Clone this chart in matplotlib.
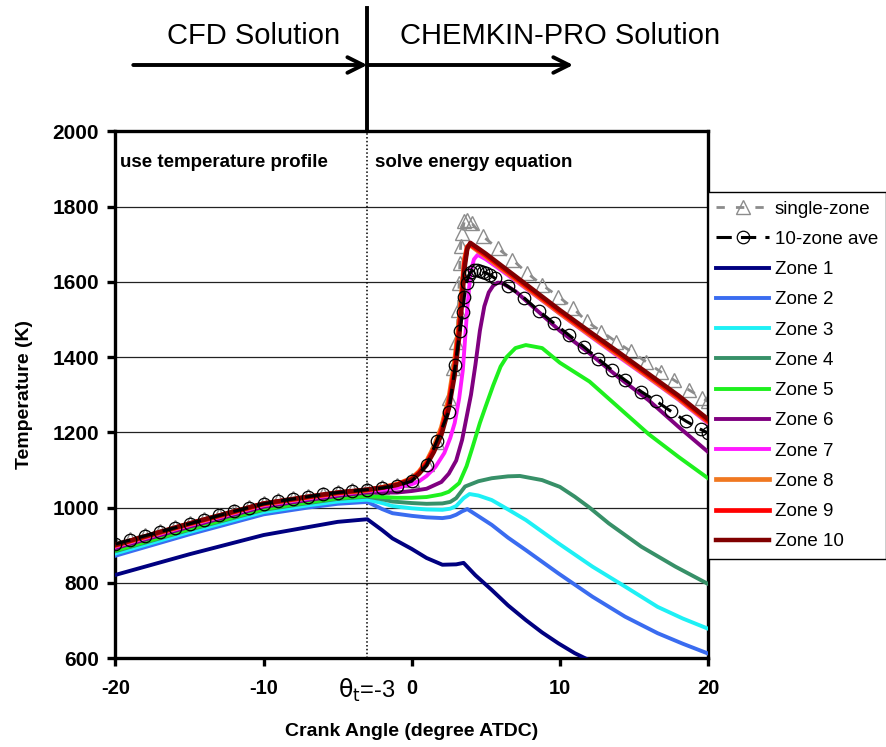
import matplotlib
matplotlib.use("Agg")
import matplotlib.pyplot as plt
from matplotlib.transforms import blended_transform_factory

plt.rcParams["font.family"] = ["Liberation Sans", "DejaVu Sans"]
plt.rcParams["axes.unicode_minus"] = False

# crank angle (deg ATDC) / temperature (K)
pre_x = [-20, -15, -10, -7, -5, -3]

zone1_x = pre_x + [-2, -1.3, 0, 1, 2.07, 3.0, 3.5, 4.3, 5.4, 6.5, 7.7, 8.8, 9.9, 11, 12.3]
zone1_T = [821, 876, 927, 948, 962, 969,
           940, 918, 890, 866, 848, 849, 853, 820, 781, 740, 701, 668, 639, 613, 588]

zone2_x = pre_x + [-2, -1.3, 0, 1, 2.07, 2.6, 3.0, 3.4, 3.75, 4.5, 5.4, 6.5, 7.7, 9.9, 12.2, 14.4, 16.6, 18.3, 20]
zone2_T = [872, 929, 982, 1000, 1010, 1015,
           996, 985, 978, 974, 972, 975, 981, 990, 996, 977, 954, 920, 887, 825, 763, 710, 666, 638, 612]

zone3_x = pre_x + [-2, -1.3, 0, 1, 2.07, 2.6, 3.0, 3.5, 3.9, 4.5, 5.4, 6.5, 7.7, 9.9, 12.2, 14.4, 16.6, 18.3, 20]
zone3_T = [878, 935, 988, 1006, 1016, 1021,
           1012, 1004, 998, 995, 994, 997, 1004, 1025, 1036, 1032, 1020, 995, 967, 905, 843, 790, 736, 705, 678]

zone4_x = pre_x + [-2, -1.3, 0, 1, 2.07, 2.6, 3.0, 3.6, 4.5, 5.4, 6.5, 7.3, 8.8, 10, 11, 12, 13.3, 15.5, 17.8, 20]
zone4_T = [884, 941, 994, 1012, 1023, 1029,
           1022, 1016, 1012, 1010, 1011, 1015, 1025, 1056, 1070, 1078, 1083, 1084, 1073, 1055, 1029,
           1000, 958, 896, 843, 797]

zone5_x = pre_x + [-2, -1, 0, 1, 2, 2.5, 3.2, 3.7, 4.1, 4.6, 5.0, 5.5, 6.0, 6.4, 7.0, 7.7, 8.8, 10, 12, 14, 16, 18, 20]
zone5_T = [886, 943, 996, 1014, 1025, 1031,
           1028, 1026, 1026, 1028, 1035, 1042, 1065, 1110, 1160, 1225, 1270, 1325, 1375, 1400, 1424,
           1432, 1424, 1385, 1335, 1265, 1195, 1135, 1078]

zone6_x = pre_x + [-2, -1, 0, 1, 2, 2.5, 3.0, 3.4, 3.75, 4.0, 4.3, 4.6, 4.9, 5.2, 5.5, 5.8, 6.1,
                   7, 8, 10, 12, 14, 16, 18, 20]
zone6_T = [892, 949, 1002, 1020, 1031, 1040,
           1040, 1040, 1044, 1050, 1068, 1090, 1125, 1180, 1250, 1300, 1380, 1470, 1535, 1572, 1590,
           1598, 1597, 1575, 1540, 1470, 1410, 1345, 1285, 1215, 1148]

zone7_x = pre_x + [-2, -1, 0, 0.5, 1, 1.6, 2.2, 2.6, 2.9, 3.2, 3.45, 3.75, 3.97, 4.2, 4.45,
                   5, 6, 8, 10, 12, 14, 16, 18, 20]
zone7_T = [896, 953, 1006, 1024, 1035, 1044,
           1047, 1052, 1062, 1070, 1084, 1108, 1145, 1185, 1225, 1290, 1366, 1530, 1625, 1660, 1672,
           1660, 1632, 1574, 1515, 1457, 1400, 1344, 1287, 1224]

hot_x = pre_x + [-2, -1, 0, 0.5, 1, 1.5, 2, 2.5, 2.9, 3.2, 3.4, 3.55, 3.75, 3.95,
                 5, 6, 8, 10, 12, 14, 16, 18, 20]
zone8_T = [899, 956, 1009, 1027, 1038, 1046,
           1054, 1062, 1078, 1096, 1123, 1162, 1213, 1290, 1392, 1498, 1590, 1660, 1694, 1697,
           1667, 1637, 1577, 1517, 1460, 1404, 1347, 1290, 1228]
zone9_T = [900, 957, 1010, 1028, 1039, 1047,
           1053, 1061, 1076, 1093, 1118, 1155, 1203, 1276, 1372, 1475, 1570, 1648, 1692, 1700,
           1671, 1641, 1581, 1521, 1464, 1408, 1351, 1294, 1231]
zone10_T = [901, 958, 1011, 1029, 1040, 1048,
            1053, 1060, 1074, 1090, 1113, 1148, 1193, 1262, 1352, 1452, 1548, 1632, 1688, 1704,
            1675, 1645, 1585, 1525, 1468, 1412, 1355, 1298, 1235]

ave_x = [-20, -19, -18, -17, -16, -15, -14, -13, -12, -11, -10, -9, -8, -7, -6, -5, -4, -3, -2, -1,
         0, 1, 1.7, 2.5, 2.95, 3.25, 3.45, 3.55, 3.7, 3.85, 4.0, 4.2, 4.4, 4.6, 4.8, 5.0, 5.3, 5.6,
         6.5, 7.6, 8.6, 9.6, 10.6, 11.6, 12.6, 13.5, 14.4, 15.5, 16.5, 17.5, 18.5, 19.5, 20]
ave_T = [903, 914, 925, 936, 946, 957, 968, 979, 990, 1000, 1010, 1017, 1023, 1029, 1035, 1040, 1044,
         1048, 1052, 1058,
         1070, 1112, 1178, 1255, 1380, 1470, 1520, 1560, 1598, 1618, 1627, 1631, 1632, 1630, 1627,
         1624, 1618, 1610,
         1588, 1557, 1522, 1490, 1459, 1428, 1395, 1366, 1339, 1308, 1283, 1256, 1230, 1208, 1198]

single_x = [-20, -19, -18, -17, -16, -15, -14, -13, -12, -11, -10, -9, -8, -7, -6, -5, -4, -3, -2, -1,
            0, 1, 1.7, 2.5, 2.8, 3.0, 3.15, 3.2, 3.25, 3.3, 3.4, 3.55, 3.75, 4.05,
            4.8, 5.8, 6.8, 7.8, 8.8, 9.9, 10.9, 11.8, 12.8, 13.8, 14.8, 15.8, 16.8, 17.7, 18.7, 19.6, 20]
single_T = [905, 916, 927, 938, 948, 959, 970, 981, 992, 1002, 1012, 1019, 1025, 1031, 1037, 1042,
            1046, 1050, 1054, 1060,
            1072, 1115, 1175, 1290, 1370, 1440, 1526, 1597, 1650, 1695, 1730, 1762, 1765, 1756,
            1721, 1689, 1659, 1623, 1592, 1561, 1530, 1495, 1468, 1441, 1415, 1388, 1361, 1339,
            1313, 1292, 1282]

zones = [
    ("Zone 1", zone1_x, zone1_T, "#000080", 2.8),
    ("Zone 2", zone2_x, zone2_T, "#3a6cf0", 2.8),
    ("Zone 3", zone3_x, zone3_T, "#1ef0f5", 2.8),
    ("Zone 4", zone4_x, zone4_T, "#379068", 2.8),
    ("Zone 5", zone5_x, zone5_T, "#1ef01e", 2.8),
    ("Zone 6", zone6_x, zone6_T, "#800080", 2.8),
    ("Zone 7", zone7_x, zone7_T, "#ff1aff", 2.8),
    ("Zone 8", hot_x, zone8_T, "#f07820", 3.4),
    ("Zone 9", hot_x, zone9_T, "#ff0000", 3.4),
    ("Zone 10", hot_x, zone10_T, "#800000", 3.2),
]

fig = plt.figure(figsize=(8.87, 7.47), dpi=100)
ax = fig.add_axes([0.1302, 0.1191, 0.668, 0.705])

ax.plot(single_x, single_T, color="#8c8c8c", ls=(0, (3, 4)), lw=2, marker="^", ms=10,
        mfc="none", mec="#8c8c8c", mew=1, label="single-zone", zorder=2)
for name, xs, ts, col, w in zones:
    ax.plot(xs, ts, color=col, lw=w, label=name, zorder=3)
ax.plot(ave_x, ave_T, color="black", ls=(0, (5, 3)), lw=2.2, marker="o", ms=9,
        mfc="none", mec="black", mew=0.9, label="10-zone ave", zorder=4)

ax.set_xlim(-20, 20)
ax.set_ylim(600, 2000)
ax.set_xticks([-20, -10, 0, 10, 20])
ax.set_yticks(range(600, 2001, 200))
ax.yaxis.grid(True, color="#222222", lw=0.9)
ax.set_axisbelow(True)
ax.axvline(-3, color="black", ls=(0, (1, 1.5)), lw=1.1, zorder=1)

for s in ax.spines.values():
    s.set_linewidth(2.4)
ax.tick_params(axis="both", direction="out", length=6, width=2.4, pad=6)
ax.tick_params(axis="x", pad=9)
for lab in ax.get_yticklabels():
    lab.set_fontsize(15)
    lab.set_fontweight("bold")
for lab in ax.get_xticklabels():
    lab.set_fontsize(14.5)
    lab.set_fontweight("bold")
ax.set_ylabel("Temperature (K)", fontsize=14, fontweight="bold", labelpad=14)
ax.set_xlabel("Crank Angle (degree ATDC)", fontsize=14, fontweight="bold", labelpad=18)

tr = blended_transform_factory(ax.transData, ax.transAxes)
ax.text(-3.0, -0.062, r"$\mathrm{\theta_t}$=-3", transform=tr, ha="center", va="center",
        fontsize=17)

ax.text(0.008, 0.94, "use temperature profile", transform=ax.transAxes, fontsize=13.5,
        fontweight="bold", va="center", ha="left")
ax.text(0.438, 0.94, "solve energy equation", transform=ax.transAxes, fontsize=13.5,
        fontweight="bold", va="center", ha="left")

# CFD / CHEMKIN-PRO split above the axes
trf = blended_transform_factory(ax.transData, fig.transFigure)
ax.plot([-3, -3], [1 - 131 / 747, 1 - 8 / 747], transform=trf, color="black", lw=2.8,
        clip_on=False)
arrow = dict(arrowstyle="->", lw=2.8, color="black", mutation_scale=28, shrinkA=0, shrinkB=0)
ax.annotate("", xy=(-3, 1 - 65 / 747), xytext=(-18.8, 1 - 65 / 747),
            xycoords=("data", "figure fraction"), textcoords=("data", "figure fraction"),
            arrowprops=arrow, annotation_clip=False)
ax.annotate("", xy=(10.9, 1 - 65 / 747), xytext=(-3, 1 - 65 / 747),
            xycoords=("data", "figure fraction"), textcoords=("data", "figure fraction"),
            arrowprops=arrow, annotation_clip=False)
ax.text(-10.7, 1 - 36 / 747, "CFD Solution", transform=trf, ha="center", va="center", fontsize=21)
ax.text(10.0, 1 - 36 / 747, "CHEMKIN-PRO Solution", transform=trf, ha="center", va="center",
        fontsize=21)

h, l = ax.get_legend_handles_labels()
order = [0, 11] + list(range(1, 11))
leg = ax.legend([h[i] for i in order], [l[i] for i in order], loc="upper left",
                bbox_to_anchor=(708 / 887, 1 - 192 / 747), bbox_transform=fig.transFigure,
                borderaxespad=0, fontsize=13.5, handlelength=2.8, handletextpad=0.3,
                labelspacing=0.7, borderpad=0.45, fancybox=False, framealpha=1,
                edgecolor="black")
leg.get_frame().set_linewidth(1)

fig.savefig("out.png", dpi=100)
